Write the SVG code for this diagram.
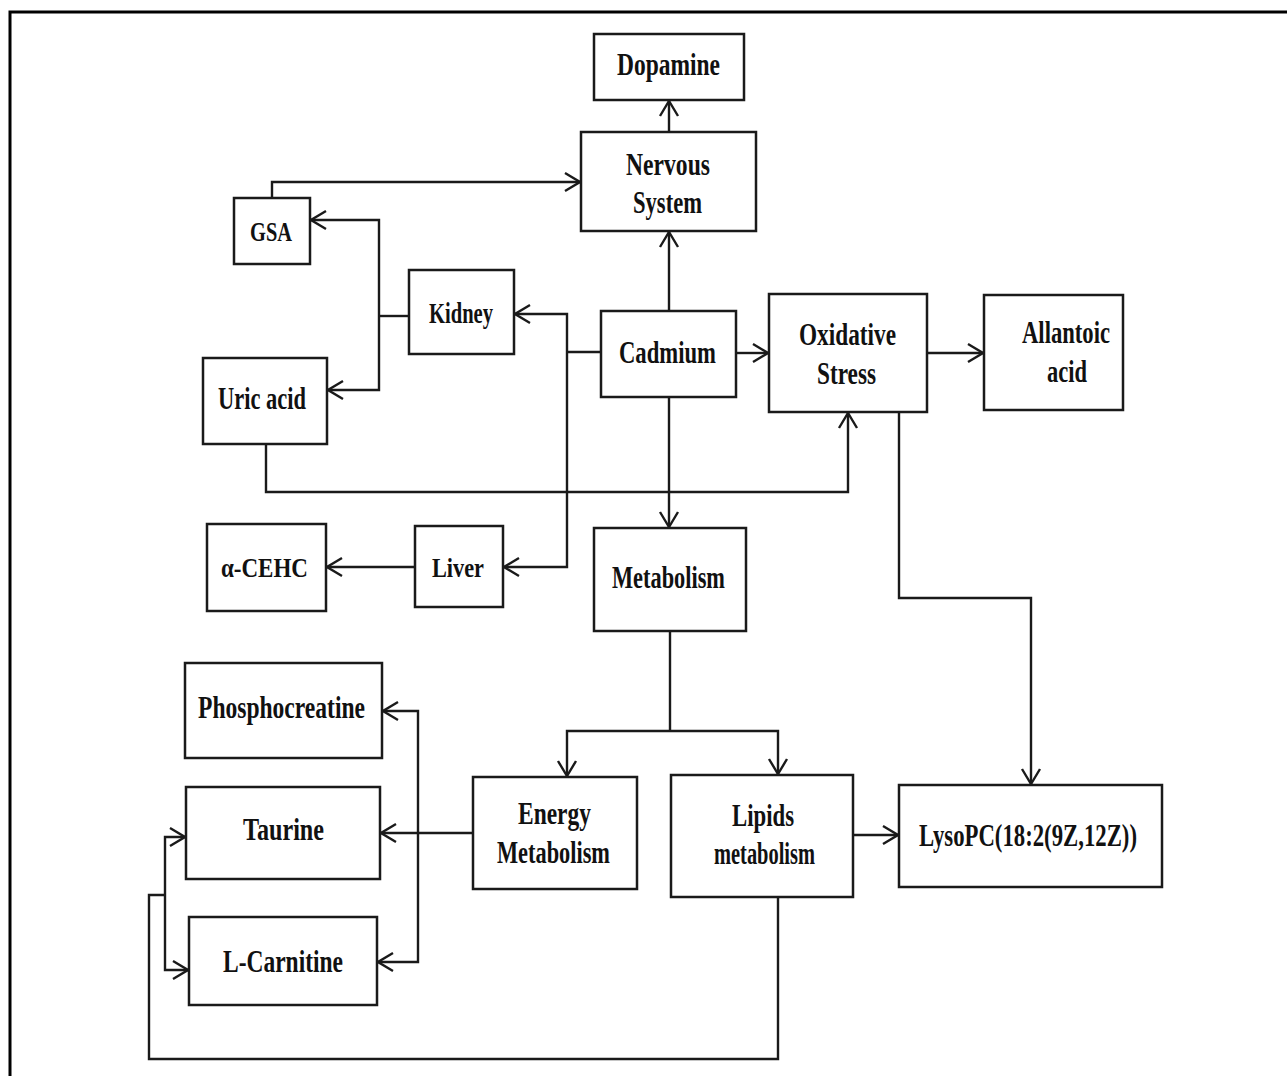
<svg xmlns="http://www.w3.org/2000/svg" width="1287" height="1076" viewBox="0 0 1287 1076">
<style>
.box{fill:#fff;stroke:#1a1a1a;stroke-width:2.5}
.lbl{font-family:"Liberation Serif","Times New Roman",serif;font-weight:bold;font-size:31px;fill:#111}
.c{fill:none;stroke:#1a1a1a;stroke-width:2.4}
.frame{fill:none;stroke:#000;stroke-width:3}
</style>
<defs>
<marker id="ah" markerUnits="userSpaceOnUse" markerWidth="18" markerHeight="22" viewBox="0 0 18 22" refX="16" refY="11" orient="auto">
<path d="M1,2 L16,11 L1,20" fill="none" stroke="#1a1a1a" stroke-width="2.4"/>
</marker>
</defs>
<rect width="1287" height="1076" fill="#fff"/>
<path class="frame" d="M10,1076 L10,12 L1287,12"/>

<g id="connectors">
<path class="c" d="M669,132 L669,101" marker-end="url(#ah)"/>
<path class="c" d="M669,311 L669,232" marker-end="url(#ah)"/>
<path class="c" d="M272,198 L272,182 L580,182" marker-end="url(#ah)"/>
<path class="c" d="M409,316 L379,316"/>
<path class="c" d="M379,316 L379,220 L311,220" marker-end="url(#ah)"/>
<path class="c" d="M379,316 L379,390 L328,390" marker-end="url(#ah)"/>
<path class="c" d="M601,352 L567,352"/>
<path class="c" d="M567,352 L567,314 L515,314" marker-end="url(#ah)"/>
<path class="c" d="M567,352 L567,567 L504,567" marker-end="url(#ah)"/>
<path class="c" d="M415,567 L327,567" marker-end="url(#ah)"/>
<path class="c" d="M266,445 L266,492 L848,492 L848,413" marker-end="url(#ah)"/>
<path class="c" d="M736,353 L768,353" marker-end="url(#ah)"/>
<path class="c" d="M927,353 L983,353" marker-end="url(#ah)"/>
<path class="c" d="M669,397 L669,527" marker-end="url(#ah)"/>
<path class="c" d="M899,412 L899,598 L1031,598 L1031,784" marker-end="url(#ah)"/>
<path class="c" d="M670,631 L670,731"/>
<path class="c" d="M670,731 L567,731 L567,776" marker-end="url(#ah)"/>
<path class="c" d="M670,731 L778,731 L778,774" marker-end="url(#ah)"/>
<path class="c" d="M853,835 L898,835" marker-end="url(#ah)"/>
<path class="c" d="M473,833 L381,833" marker-end="url(#ah)"/>
<path class="c" d="M418,833 L418,711 L383,711" marker-end="url(#ah)"/>
<path class="c" d="M418,833 L418,962 L378,962" marker-end="url(#ah)"/>
<path class="c" d="M778,897 L778,1059 L149,1059 L149,895 L165,895"/>
<path class="c" d="M165,895 L165,837 L185,837" marker-end="url(#ah)"/>
<path class="c" d="M165,895 L165,970 L188,970" marker-end="url(#ah)"/>
</g>

<g id="dopamine"><rect class="box" x="594" y="34" width="150" height="66"/>
<text class="lbl" x="617" y="75" textLength="103" lengthAdjust="spacingAndGlyphs">Dopamine</text></g>

<g id="nervous-system"><rect class="box" x="581" y="132" width="175" height="99"/>
<text class="lbl" x="626" y="175" textLength="84" lengthAdjust="spacingAndGlyphs">Nervous</text>
<text class="lbl" x="633" y="213" textLength="69" lengthAdjust="spacingAndGlyphs">System</text></g>

<g id="gsa"><rect class="box" x="234" y="198" width="76" height="66"/>
<text class="lbl" x="250" y="241" textLength="42" lengthAdjust="spacingAndGlyphs" style="font-size:27px">GSA</text></g>

<g id="kidney"><rect class="box" x="409" y="270" width="105" height="84"/>
<text class="lbl" x="429" y="323" textLength="64" lengthAdjust="spacingAndGlyphs" style="font-size:29px">Kidney</text></g>

<g id="uric-acid"><rect class="box" x="203" y="358" width="124" height="86"/>
<text class="lbl" x="218" y="409" textLength="88" lengthAdjust="spacingAndGlyphs">Uric acid</text></g>

<g id="cadmium"><rect class="box" x="601" y="311" width="135" height="86"/>
<text class="lbl" x="619" y="363" textLength="97" lengthAdjust="spacingAndGlyphs">Cadmium</text></g>

<g id="oxidative-stress"><rect class="box" x="769" y="294" width="158" height="118"/>
<text class="lbl" x="799" y="345" textLength="97" lengthAdjust="spacingAndGlyphs">Oxidative</text>
<text class="lbl" x="817" y="384" textLength="59" lengthAdjust="spacingAndGlyphs">Stress</text></g>

<g id="allantoic-acid"><rect class="box" x="984" y="295" width="139" height="115"/>
<text class="lbl" x="1022" y="343" textLength="88" lengthAdjust="spacingAndGlyphs">Allantoic</text>
<text class="lbl" x="1047" y="382" textLength="40" lengthAdjust="spacingAndGlyphs">acid</text></g>

<g id="metabolism"><rect class="box" x="594" y="528" width="152" height="103"/>
<text class="lbl" x="612" y="588" textLength="113" lengthAdjust="spacingAndGlyphs">Metabolism</text></g>

<g id="alpha-cehc"><rect class="box" x="207" y="524" width="119" height="87"/>
<text class="lbl" x="221" y="577" textLength="87" lengthAdjust="spacingAndGlyphs" style="font-size:28px">α-CEHC</text></g>

<g id="liver"><rect class="box" x="415" y="526" width="88" height="81"/>
<text class="lbl" x="432" y="577" textLength="52" lengthAdjust="spacingAndGlyphs" style="font-size:28px">Liver</text></g>

<g id="phosphocreatine"><rect class="box" x="185" y="663" width="197" height="95"/>
<text class="lbl" x="198" y="718" textLength="167" lengthAdjust="spacingAndGlyphs">Phosphocreatine</text></g>

<g id="taurine"><rect class="box" x="186" y="787" width="194" height="92"/>
<text class="lbl" x="243" y="840" textLength="81" lengthAdjust="spacingAndGlyphs">Taurine</text></g>

<g id="l-carnitine"><rect class="box" x="189" y="917" width="188" height="88"/>
<text class="lbl" x="223" y="972" textLength="120" lengthAdjust="spacingAndGlyphs">L-Carnitine</text></g>

<g id="energy-metabolism"><rect class="box" x="473" y="777" width="164" height="112"/>
<text class="lbl" x="518" y="824" textLength="73" lengthAdjust="spacingAndGlyphs">Energy</text>
<text class="lbl" x="497" y="863" textLength="113" lengthAdjust="spacingAndGlyphs">Metabolism</text></g>

<g id="lipids-metabolism"><rect class="box" x="671" y="775" width="182" height="122"/>
<text class="lbl" x="732" y="826" textLength="62" lengthAdjust="spacingAndGlyphs">Lipids</text>
<text class="lbl" x="714" y="864" textLength="101" lengthAdjust="spacingAndGlyphs">metabolism</text></g>

<g id="lysopc"><rect class="box" x="899" y="785" width="263" height="102"/>
<text class="lbl" x="919" y="846" textLength="218" lengthAdjust="spacingAndGlyphs">LysoPC(18:2(9Z,12Z))</text></g>
</svg>
